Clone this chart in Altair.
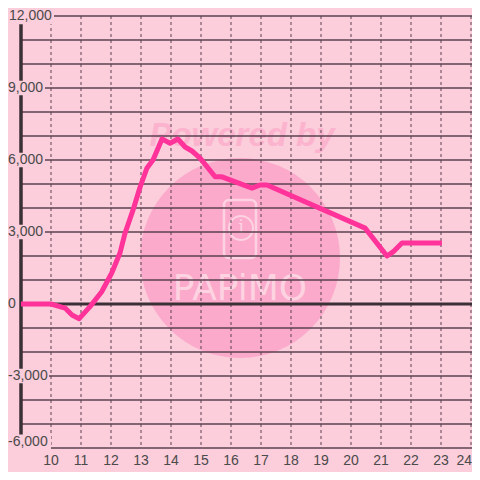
import altair as alt
import pandas as pd

# ---- data ----
HOURS = [9.0, 10.0, 10.47, 10.7, 10.94, 11.3, 11.69, 12.02, 12.3, 12.47, 12.73,
         12.97, 13.2, 13.4, 13.7, 13.97, 14.23, 14.47, 14.7, 14.97, 15.47, 15.7,
         16.7, 16.97, 17.2, 20.47, 21.2, 21.4, 21.7, 23.03]
VALUES = [0, 0, -170, -460, -610, -110, 510, 1280, 2125, 2960, 3900,
          4875, 5670, 6000, 6875, 6700, 6875, 6540, 6375, 6080, 5300, 5300,
          4830, 4960, 4960, 3160, 2000, 2170, 2540, 2540]
Y_GRID = list(range(-6000, 12001, 1000))
Y_LABELS = [12000, 9000, 6000, 3000, 0, -3000, -6000]
X_TICKS = list(range(10, 25))

# ---- styling ----
BG = "#fccddb"
CIRCLE = "#fbaacb"
POWERED = "#fbb3ce"
LOGO = "#fdd3e1"
GRID = "#5a4050"
AXIS = "#3a3035"
LINE = "#ff3399"
TEXT = "#4a4a4a"
FONT = "Liberation Sans"
W, H = 450, 432

xs = alt.Scale(domain=[9, 24], nice=False, zero=False)
ys = alt.Scale(domain=[-6000, 12000], nice=False, zero=False)

line_df = pd.DataFrame({"h": HOURS, "v": VALUES})
ygrid_df = pd.DataFrame({"v": Y_GRID})
xgrid_df = pd.DataFrame({"h": X_TICKS})
ylab_df = pd.DataFrame({"v": Y_LABELS, "t": [f"{v:,}" for v in Y_LABELS]})
xlab_df = pd.DataFrame({"h": X_TICKS, "t": [str(h) for h in X_TICKS]})
zero_df = pd.DataFrame({"v": [0]})
one = pd.DataFrame({"a": [0]})

# watermark
wm_circle = alt.Chart(one).mark_point(shape="circle", filled=True, size=40000,
                                      color=CIRCLE, opacity=1).encode(
    x=alt.value(219), y=alt.value(242))
wm_powered = alt.Chart(one).mark_text(text="Powered by", font=FONT, fontSize=33,
                                      fontWeight="bold", fontStyle="italic",
                                      color=POWERED, baseline="middle").encode(
    x=alt.value(221), y=alt.value(120))
wm_logo = alt.Chart(one).mark_text(text="PAPiMO", font="DejaVu Sans", fontSize=36,
                                   fontWeight="normal", color=LOGO, baseline="middle").encode(
    x=alt.value(219), y=alt.value(273))
wm_phone = alt.Chart(one).mark_rect(filled=False, stroke=LOGO, strokeWidth=2.5,
                                    cornerRadius=5).encode(
    x=alt.value(203), x2=alt.value(235), y=alt.value(184), y2=alt.value(242))
wm_ring = alt.Chart(one).mark_point(shape="circle", filled=False, size=576,
                                    stroke=LOGO, strokeWidth=2, opacity=1).encode(
    x=alt.value(220), y=alt.value(212))
wm_i = alt.Chart(one).mark_text(text="i", font="DejaVu Serif", fontSize=18,
                                color=LOGO, baseline="middle").encode(
    x=alt.value(220), y=alt.value(212))

# grid
hgrid = alt.Chart(ygrid_df).mark_rule(color=GRID, strokeWidth=1.5).encode(
    y=alt.Y("v:Q", scale=ys, axis=None), x=alt.value(0), x2=alt.value(W + 2))
vgrid = alt.Chart(xgrid_df).mark_rule(color=GRID, strokeWidth=1,
                                      strokeDash=[3, 3]).encode(
    x=alt.X("h:Q", scale=xs, axis=None), y=alt.value(0), y2=alt.value(H))
yaxis = alt.Chart(one).mark_rule(color=AXIS, strokeWidth=3.5).encode(
    x=alt.value(0), y=alt.value(0), y2=alt.value(H))
zline = alt.Chart(zero_df).mark_rule(color=AXIS, strokeWidth=3).encode(
    y=alt.Y("v:Q", scale=ys, axis=None), x=alt.value(0), x2=alt.value(W + 2))

# label boxes (cover lines behind labels)
box_pos = alt.Chart(ylab_df).transform_filter(
    "datum.v > 0 && datum.v < 12000").transform_calculate(
    lo="datum.v - 300", hi="datum.v + 300").mark_rect(color=BG).encode(
    y=alt.Y("lo:Q", scale=ys, axis=None), y2="hi:Q", x=alt.value(-13), x2=alt.value(24))
box_neg = alt.Chart(ylab_df).transform_filter(
    "datum.v < 0 && datum.v > -6000").transform_calculate(
    lo="datum.v - 300", hi="datum.v + 300").mark_rect(color=BG).encode(
    y=alt.Y("lo:Q", scale=ys, axis=None), y2="hi:Q", x=alt.value(-13), x2=alt.value(28))
box_top = alt.Chart(ylab_df).transform_filter("datum.v == 12000").transform_calculate(
    lo="datum.v - 340", hi="datum.v + 340").mark_rect(color=BG).encode(
    y=alt.Y("lo:Q", scale=ys, axis=None), y2="hi:Q", x=alt.value(-13), x2=alt.value(33))
box_bot = alt.Chart(ylab_df).transform_filter("datum.v == -6000").transform_calculate(
    lo="datum.v - 300", hi="datum.v + 560").mark_rect(color=BG).encode(
    y=alt.Y("lo:Q", scale=ys, axis=None), y2="hi:Q", x=alt.value(-13), x2=alt.value(30))

# y labels
lab_pos = alt.Chart(ylab_df).transform_filter(
    "datum.v > 0 && datum.v < 12000").mark_text(
    font=FONT, fontSize=14, color=TEXT, align="right", baseline="middle").encode(
    y=alt.Y("v:Q", scale=ys, axis=None), x=alt.value(22), text="t:N")
lab_neg = alt.Chart(ylab_df).transform_filter(
    "datum.v < 0 && datum.v > -6000").mark_text(
    font=FONT, fontSize=14, color=TEXT, align="left", baseline="middle").encode(
    y=alt.Y("v:Q", scale=ys, axis=None), x=alt.value(-13), text="t:N")
lab_top = alt.Chart(ylab_df).transform_filter("datum.v == 12000").mark_text(
    font=FONT, fontSize=14, color=TEXT, align="left", baseline="middle").encode(
    y=alt.Y("v:Q", scale=ys, axis=None), x=alt.value(-12), text="t:N")
lab_zero = alt.Chart(ylab_df).transform_filter("datum.v == 0").mark_text(
    font=FONT, fontSize=14, color=TEXT, align="center", baseline="middle").encode(
    y=alt.Y("v:Q", scale=ys, axis=None), x=alt.value(-9), text="t:N")
lab_bot = alt.Chart(ylab_df).transform_filter("datum.v == -6000").mark_text(
    font=FONT, fontSize=14, color=TEXT, align="left", baseline="middle", dy=-6).encode(
    y=alt.Y("v:Q", scale=ys, axis=None), x=alt.value(-13), text="t:N")

# x labels
xlab = alt.Chart(xlab_df).transform_filter("datum.h < 24").mark_text(
    font=FONT, fontSize=14, color=TEXT, align="center", baseline="middle").encode(
    x=alt.X("h:Q", scale=xs, axis=None), y=alt.value(H + 13), text="t:N")
xlab_last = alt.Chart(xlab_df).transform_filter("datum.h == 24").mark_text(
    font=FONT, fontSize=14, color=TEXT, align="right", baseline="middle", dx=1).encode(
    x=alt.X("h:Q", scale=xs, axis=None), y=alt.value(H + 13), text="t:N")

# data line
line = alt.Chart(line_df).mark_line(color=LINE, strokeWidth=5, strokeJoin="round").encode(
    x=alt.X("h:Q", scale=xs, axis=None), y=alt.Y("v:Q", scale=ys, axis=None))

chart = alt.layer(
    wm_circle, wm_powered, wm_logo, wm_phone, wm_ring, wm_i,
    hgrid, vgrid, yaxis, zline,
    box_pos, box_neg, box_top, box_bot,
    lab_pos, lab_neg, lab_top, lab_zero, lab_bot,
    xlab, xlab_last,
    line,
).properties(
    width=W, height=H,
    padding={"left": 13, "top": 8, "right": 1, "bottom": 24},
    autosize="none",
    background=BG,
).configure_view(stroke=None)

chart.save("out.html", embed_options={"renderer": "svg", "actions": False})
